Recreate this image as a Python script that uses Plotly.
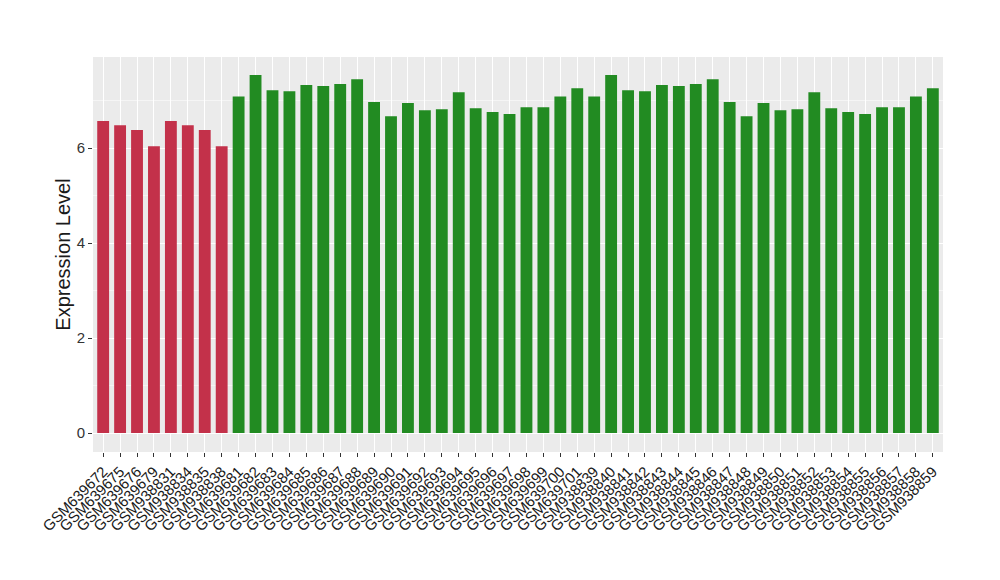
import plotly.graph_objects as go

samples = (["GSM639672", "GSM639675", "GSM639676", "GSM639679",
            "GSM938831", "GSM938834", "GSM938835", "GSM938838"]
           + ["GSM6396%02d" % i for i in range(81, 100)] + ["GSM639700", "GSM639701"]
           + ["GSM9388%02d" % i for i in range(39, 60)])

values = [6.57, 6.48, 6.38, 6.04, 6.57, 6.48, 6.38, 6.04,
          7.09, 7.54, 7.22, 7.20, 7.33, 7.31, 7.35, 7.45, 6.97, 6.67, 6.95, 6.80,
          6.82, 7.18, 6.84, 6.76, 6.72, 6.86, 6.86, 7.09, 7.26,
          7.09, 7.54, 7.22, 7.20, 7.33, 7.31, 7.35, 7.45, 6.97, 6.67, 6.95, 6.80,
          6.82, 7.18, 6.84, 6.76, 6.72, 6.86, 6.86, 7.09, 7.26]

groups = ["red"] * 8 + ["green"] * 42
color_map = {"red": "#C3314A", "green": "#228B22"}
colors = [color_map[g] for g in groups]

fig = go.Figure(go.Bar(x=samples, y=values, marker=dict(color=colors, line=dict(width=0)),
                       width=0.7))

fig.update_layout(
    width=1000, height=580,
    margin=dict(l=85, r=65, t=49, b=136, autoexpand=False),
    paper_bgcolor="white", plot_bgcolor="#EBEBEB",
    font=dict(family="Liberation Sans, Arial, sans-serif", color="#1a1a1a"),
    showlegend=False,
)
fig.update_xaxes(
    type="category", range=[-0.6, 49.6], tickangle=-45, automargin=False,
    tickmode="array", tickvals=samples, ticktext=samples,
    tickfont=dict(size=15, color="#1a1a1a"),
    showgrid=True, gridcolor="white", gridwidth=1.1,
    ticks="outside", ticklen=4, tickcolor="#333333", zeroline=False,
)
fig.update_yaxes(
    range=[-0.4, 7.92], tickvals=[0, 2, 4, 6], automargin=False,
    tickfont=dict(size=15, color="#333333"),
    showgrid=True, gridcolor="white", gridwidth=1.1,
    minor=dict(tickvals=[1, 3, 5, 7], showgrid=True, gridcolor="#F5F5F5", gridwidth=0.6, ticks=""),
    ticks="outside", ticklen=4, tickcolor="#333333", zeroline=False,
    title=dict(text="Expression Level", font=dict(size=20, color="#1a1a1a"), standoff=0),
)

fig.write_html("out.html")
